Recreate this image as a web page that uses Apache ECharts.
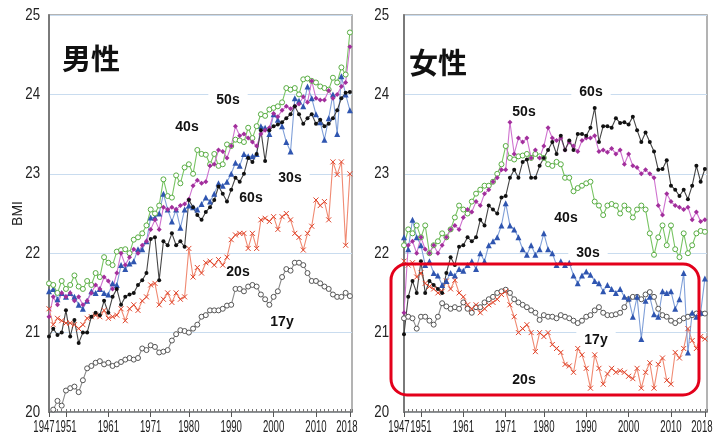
<!DOCTYPE html>
<html>
<head>
<meta charset="utf-8">
<script src="https://cdn.jsdelivr.net/npm/echarts@6/dist/echarts.min.js"></script>
<style>
  html, body { margin: 0; padding: 0; background: #fff; }
  #chart { width: 716px; height: 435px; }
</style>
</head>
<body>
<div id="chart"></div>
<script>
// Survey years 1947–2018
const FIRST_YEAR = 1947;
const YEARS = Array.from({ length: 72 }, (_, i) => FIRST_YEAR + i);
const X_TICKS = [1947, 1951, 1961, 1971, 1980, 1990, 2000, 2010, 2018];
const Y_TICKS = [20, 21, 22, 23, 24, 25];

// ---- 男性 (mean BMI) ----
const male17 = [null, 20.03, 20.14,
  20.08, 20.27, 20.30, 20.32, 20.25, 20.40, 20.55, 20.58, 20.62, 20.64,
  20.60, 20.62, 20.58, 20.60, 20.63, 20.66, 20.68, 20.66, 20.68, 20.80,
  20.78, 20.84, 20.82, 20.75, 20.76, 20.78, 20.90, 20.98, 21.03, 21.02,
  21.00, 21.05, 21.10, 21.20, 21.22, 21.28, 21.28, 21.28, 21.30, 21.34,
  21.35, 21.55, 21.55, 21.52, 21.58, 21.60, 21.58, 21.48, 21.42, 21.35,
  21.45, 21.52, 21.70, 21.80, 21.78, 21.88, 21.88, 21.85, 21.75, 21.65,
  21.65, 21.62, 21.58, 21.55, 21.48, 21.45, 21.45, 21.50, 21.46];
const male20 = [21.30, 21.10, 21.18,
  21.15, 21.12, 21.12, 21.10, 21.05, 21.10, 21.18, 21.20, 21.22, 21.20,
  21.28, 21.18, 21.20, 21.22, 21.30, 21.15, 21.30, 21.35, 21.28, 21.40,
  21.45, 21.60, 21.62, 21.35, 21.42, 21.50, 21.38, 21.50, 21.42, 21.45,
  22.06, 21.70, 21.82, 21.75, 21.88, 21.90, 21.85, 21.92, 21.85, 21.95,
  22.17, 22.23, 22.25, 22.25, 22.06, 22.25, 22.06, 22.42, 22.44, 22.40,
  22.46, 22.30, 22.46, 22.50, 22.42, 22.25, 22.20, 22.04, 22.25, 22.34,
  22.67, 22.60, 22.65, 22.42, 23.15, 22.99, 23.15, 22.10, 23.00];
const male30 = [21.52, 21.55, 21.42,
  21.50, 21.45, 21.50, 21.45, 21.35, 21.30, 21.40, 21.52, 21.50, 21.55,
  21.50, 21.48, 21.62, 21.60, 21.85, 21.80, 21.87, 21.90, 22.05, 22.05,
  22.15, 22.45, 22.45, 22.50, 22.75, 22.55, 22.40, 22.55, 22.32, 22.55,
  22.60, 22.58, 22.55, 22.62, 22.70, 22.65, 22.75, 22.88, 22.85, 22.90,
  23.00, 23.14, 23.10, 23.25, 23.22, 23.22, 23.25, 23.60, 23.58, 23.50,
  23.75, 23.68, 23.60, 23.40, 23.28, 23.95, 23.92, 23.85, 24.10, 23.95,
  23.75, 23.65, 23.43, 23.70, 24.00, 23.50, 24.23, 24.00, 23.80];
const male40 = [21.62, 21.60, 21.50,
  21.65, 21.55, 21.60, 21.72, 21.58, 21.55, 21.65, 21.60, 21.75, 21.70,
  21.95, 21.88, 21.85, 22.02, 22.04, 22.05, 22.00, 22.17, 22.20, 22.25,
  22.35, 22.55, 22.50, 22.60, 22.93, 22.72, 22.70, 22.98, 22.88, 23.08,
  23.12, 23.00, 23.30, 23.25, 23.24, 23.12, 23.25, 23.10, 23.12, 23.37,
  23.35, 23.43, 23.42, 23.40, 23.58, 23.45, 23.60, 23.75, 23.73, 23.81,
  23.83, 23.85, 23.90, 24.08, 24.06, 24.08, 24.00, 24.19, 24.20, 24.17,
  24.15, 24.10, 24.08, 24.06, 24.21, 24.15, 24.34, 24.25, 24.78];
const male50 = [21.20, 21.45, 21.35,
  21.50, 21.45, 21.50, 21.40, 21.45, 21.35, 21.40, 21.50, 21.60, 21.55,
  21.70, 21.65, 21.55, 21.75, 22.00, 21.85, 21.95, 22.05, 22.00, 22.10,
  22.15, 22.30, 22.42, 22.30, 22.58, 22.55, 22.58, 22.55, 22.60, 22.62,
  22.68, 22.85, 22.92, 22.88, 22.90, 23.10, 23.12, 23.30, 23.28, 23.20,
  23.35, 23.60, 23.48, 23.50, 23.45, 23.40, 23.35, 23.50, 23.55, 23.58,
  23.76, 23.72, 23.80, 23.85, 23.82, 23.85, 23.88, 23.97, 23.90, 24.17,
  23.95, 23.93, 23.93, 24.05, 23.95, 24.00, 24.10, 24.15, 24.60];
const male60 = [20.95, 21.05, 20.97,
  21.00, 21.28, 20.95, 21.16, 20.87, 21.00, 21.00, 21.20, 21.25, 21.22,
  21.40, 21.25, 21.45, 21.55, 21.35, 21.45, 21.48, 21.50, 21.60, 21.66,
  21.75, 22.18, 22.20, 21.66, 22.15, 22.10, 22.25, 22.10, 22.15, 22.08,
  22.67, 22.58, 22.48, 22.42, 22.52, 22.58, 22.67, 22.84, 22.75, 22.65,
  22.80, 22.95, 22.90, 23.00, 23.20, 23.15, 23.25, 23.55, 23.16, 23.55,
  23.60, 23.62, 23.65, 23.70, 23.75, 23.85, 23.75, 23.63, 23.70, 23.75,
  23.63, 23.68, 23.60, 23.63, 23.70, 23.80, 23.95, 24.02, 24.03];

// ---- 女性 (mean BMI) ----
const female17 = [21.18, 21.20, 21.18,
  21.05, 21.20, 21.20, 21.15, 21.10, 21.20, 21.37, 21.33, 21.30, 21.32,
  21.30, 21.38, 21.30, 21.25, 21.32, 21.32, 21.38, 21.42, 21.45, 21.50,
  21.52, 21.54, 21.50, 21.42, 21.38, 21.35, 21.32, 21.28, 21.25, 21.16,
  21.22, 21.20, 21.20, 21.18, 21.22, 21.20, 21.18, 21.15, 21.12, 21.15,
  21.20, 21.22, 21.28, 21.32, 21.25, 21.22, 21.22, 21.23, 21.25, 21.32,
  21.42, 21.45, 21.45, 21.42, 21.48, 21.51, 21.45, 21.30, 21.22, 21.20,
  21.15, 21.12, 21.15, 21.18, 21.20, 21.22, 21.24, 21.24, 21.24];
const female20 = [21.90, 21.85, 21.88,
  21.70, 21.75, 21.62, 21.58, 21.55, 21.50, 21.52, 21.65, 21.55, 21.66,
  21.50, 21.45, 21.35, 21.30, 21.35, 21.25, 21.30, 21.35, 21.38, 21.42,
  21.48, 21.52, 21.35, 21.20, 21.00, 21.05, 21.10, 21.00, 20.76, 21.00,
  20.95, 21.00, 20.85, 20.80, 20.75, 20.60, 20.58, 20.50, 20.80, 20.72,
  20.55, 20.30, 20.72, 20.55, 20.35, 20.48, 20.55, 20.50, 20.52, 20.50,
  20.45, 20.42, 20.55, 20.30, 20.50, 20.62, 20.30, 20.60, 20.68, 20.40,
  20.35, 20.75, 20.68, 20.80, 21.05, 20.90, 20.80, 20.95, 20.92];
const female30 = [22.20, 22.05, 22.42,
  22.20, 22.10, 21.85, 21.90, 21.75, 21.72, 21.60, 21.65, 21.75, 21.72,
  21.80, 21.78, 21.85, 21.90, 21.80, 22.00, 21.90, 22.10, 22.15, 22.20,
  22.35, 22.63, 22.35, 22.30, 22.20, 22.05, 21.98, 22.10, 21.98, 22.05,
  22.25, 22.05, 22.00, 21.85, 21.90, 21.85, 21.88, 21.72, 21.62, 21.72,
  21.77, 21.73, 21.65, 21.62, 21.52, 21.60, 21.55, 21.50, 21.55, 21.45,
  21.43, 21.20, 21.45, 20.92, 21.40, 21.45, 21.23, 21.20, 21.52, 21.50,
  21.52, 21.30, 21.42, 21.75, 20.75, 21.25, 21.20, 21.25, 21.68];
const female40 = [22.10, 22.30, 22.25,
  22.35, 22.20, 22.35, 22.00, 22.10, 22.15, 22.25, 22.20, 22.30, 22.45,
  22.60, 22.55, 22.50, 22.65, 22.75, 22.80, 22.85, 22.85, 22.90, 23.00,
  23.12, 23.35, 23.20, 23.18, 23.22, 23.23, 23.25, 23.20, 23.25, 23.22,
  23.20, 23.12, 23.10, 23.15, 23.12, 22.95, 22.95, 22.78, 22.82, 22.85,
  22.88, 22.90, 22.65, 22.60, 22.48, 22.60, 22.62, 22.60, 22.50, 22.60,
  22.55, 22.45, 22.55, 22.60, 22.55, 22.25, 21.98, 22.20, 22.35, 22.10,
  22.35, 22.05, 21.95, 22.25, 22.00, 22.10, 22.25, 22.28, 22.27];
const female50 = [21.25, 22.10, 22.15,
  22.00, 22.20, 22.05, 22.00, 22.10, 22.00, 22.10, 22.20, 22.30, 22.35,
  22.30, 22.45, 22.55, 22.52, 22.65, 22.60, 22.75, 22.80, 22.90, 22.95,
  23.05, 23.05, 23.65, 23.25, 23.45, 23.40, 23.45, 23.20, 23.30, 23.20,
  23.35, 23.58, 23.45, 23.42, 23.45, 23.30, 23.40, 23.35, 23.28, 23.42,
  23.45, 23.45, 23.48, 23.28, 23.30, 23.27, 23.32, 23.25, 23.30, 23.12,
  23.25, 23.10, 23.08, 23.00, 23.05, 23.00, 22.95, 22.60, 22.48, 22.75,
  22.65, 22.60, 22.58, 22.55, 22.58, 22.42, 22.52, 22.40, 22.42];
const female60 = [20.98, 21.45, 21.65,
  21.50, 21.90, 21.50, 21.65, 21.60, 21.55, 21.50, 21.75, 21.95, 21.85,
  22.08, 22.10, 22.20, 22.15, 22.20, 22.42, 22.35, 22.60, 22.55, 22.50,
  22.70, 22.72, 22.95, 23.05, 22.95, 23.15, 23.18, 22.95, 22.95, 23.10,
  23.20, 23.30, 23.40, 23.25, 23.48, 23.30, 23.42, 23.30, 23.50, 23.50,
  23.48, 23.58, 23.83, 23.40, 23.60, 23.60, 23.58, 23.70, 23.64, 23.65,
  23.62, 23.72, 23.55, 23.40, 23.52, 23.40, 23.28, 23.05, 23.06, 23.17,
  22.85, 22.80, 22.72, 22.80, 22.68, 22.85, 23.10, 22.90, 23.06];

// Line / marker styles per age group
const STYLES = {
  '17y': { line: '#8a8a8a', symbol: 'circle', size: 5, fill: '#ffffff', border: '#555555' },
  '20s': { line: '#f08a72', symbol: 'path://M0,0L10,10M10,0L0,10', size: 5, fill: 'none', border: '#e0452c' },
  '30s': { line: '#7f9fd8', symbol: 'triangle', size: 6, fill: '#2f55b0', border: null },
  '40s': { line: '#78c463', symbol: 'circle', size: 5, fill: '#ffffff', border: '#58ad42' },
  '50s': { line: '#cf72cf', symbol: 'diamond', size: 5, fill: '#a22f9c', border: null },
  '60s': { line: '#454545', symbol: 'circle', size: 4, fill: '#111111', border: null }
};

function pairs(values) {
  return YEARS.map((y, i) => [y, values[i]]).filter(p => p[1] !== null);
}

function makeSeries(name, values, g) {
  const s = STYLES[name];
  return {
    name: name + (g === 0 ? ' 男性' : ' 女性'),
    type: 'line',
    xAxisIndex: g * 2,
    yAxisIndex: g,
    data: pairs(values),
    symbol: s.symbol,
    symbolSize: s.size,
    showAllSymbol: true,
    lineStyle: { color: s.line, width: 1.1 },
    itemStyle: {
      color: s.fill,
      borderColor: s.border || s.fill,
      borderWidth: s.border ? 1 : 0
    },
    emphasis: { disabled: true },
    z: 3
  };
}

const GRID_TOP = 15;
const GRID_H = 397;
const GRID_W = 303;

function xAxes(g) {
  return [
    {
      type: 'value', gridIndex: g, min: 1947, max: 2018.5,
      axisLine: { show: true, lineStyle: { color: '#7a7a7a', width: 1.5 } },
      axisTick: { show: true, customValues: X_TICKS, length: 5, lineStyle: { color: '#555' } },
      axisLabel: { show: false },
      splitLine: { show: false }
    },
    {
      type: 'value', gridIndex: g, min: 1947, max: 2018.5, interval: 1,
      position: 'bottom',
      axisLine: { show: false },
      axisLabel: { show: false },
      axisTick: { show: true, inside: true, length: 3, lineStyle: { color: '#777' } },
      splitLine: { show: false }
    }
  ];
}

function yAxis(g) {
  return {
    type: 'value', gridIndex: g, min: 20, max: 25, interval: 1,
    name: g === 0 ? 'BMI' : '',
    nameLocation: 'middle',
    nameRotate: 90,
    nameGap: 24,
    nameTextStyle: { fontSize: 14, color: '#222', fontFamily: '"Liberation Sans", Arial, sans-serif' },
    axisLine: { show: true, lineStyle: { color: '#7a7a7a', width: 2 } },
    axisTick: { show: false },
    axisLabel: { show: false },
    splitLine: { show: true, lineStyle: { color: '#c9dcef', width: 1 } }
  };
}

function nameLabel(text, x, y) {
  return {
    type: 'text', x: x, y: y, z: 1,
    style: {
      text: text,
      fill: '#111',
      font: 'bold 14px "Liberation Sans", Arial, sans-serif',
      align: 'center',
      verticalAlign: 'middle',
      backgroundColor: '#fff',
      padding: [1, 8]
    }
  };
}

const chart = echarts.init(document.getElementById('chart'), null, { renderer: 'canvas' });

chart.setOption({
  animation: false,
  backgroundColor: '#fff',
  grid: [
    { left: 49, top: GRID_TOP, width: GRID_W, height: GRID_H, show: true, borderColor: '#9a9a9a', borderWidth: 1.5, backgroundColor: 'transparent' },
    { left: 404, top: GRID_TOP, width: GRID_W, height: GRID_H, show: true, borderColor: '#9a9a9a', borderWidth: 1.5, backgroundColor: 'transparent' }
  ],
  xAxis: [...xAxes(0), ...xAxes(1)],
  yAxis: [yAxis(0), yAxis(1)],
  series: [
    makeSeries('17y', male17, 0),
    makeSeries('20s', male20, 0),
    makeSeries('30s', male30, 0),
    makeSeries('40s', male40, 0),
    makeSeries('50s', male50, 0),
    makeSeries('60s', male60, 0),
    makeSeries('17y', female17, 1),
    makeSeries('20s', female20, 1),
    makeSeries('30s', female30, 1),
    makeSeries('40s', female40, 1),
    makeSeries('50s', female50, 1),
    makeSeries('60s', female60, 1)
  ]
});

// Tick labels in a condensed face, placed through the axis scales
const tickLabels = [];
[0, 1].forEach(g => {
  const axisY = chart.convertToPixel({ yAxisIndex: g }, 20);
  const axisX = chart.convertToPixel({ xAxisIndex: g * 2 }, 1947);
  X_TICKS.forEach(v => {
    let px = chart.convertToPixel({ xAxisIndex: g * 2 }, v);
    if (v === 1947) px -= 5;
    if (v === 2018) px -= 3;
    tickLabels.push({
      type: 'text', x: px, y: axisY + 16, scaleX: 0.6, z: 1,
      style: { text: String(v), fill: '#222', font: '16px "Liberation Sans", Arial, sans-serif', align: 'center', verticalAlign: 'middle' }
    });
  });
  Y_TICKS.forEach(v => {
    const py = chart.convertToPixel({ yAxisIndex: g }, v);
    tickLabels.push({
      type: 'text', x: axisX - (g === 0 ? 9 : 15), y: py, scaleX: 0.78, z: 1,
      style: { text: String(v), fill: '#222', font: '17px "Liberation Sans", Arial, sans-serif', align: 'right', verticalAlign: 'middle' }
    });
  });
});

chart.setOption({
  graphic: [
    ...tickLabels,
    {
      type: 'text', x: 91, y: 59, z: 1,
      style: { text: '男性', fill: '#111', font: 'bold 29px "Noto Sans CJK JP", sans-serif', align: 'center', verticalAlign: 'middle' }
    },
    {
      type: 'text', x: 438, y: 63, z: 1,
      style: { text: '女性', fill: '#111', font: 'bold 29px "Noto Sans CJK JP", sans-serif', align: 'center', verticalAlign: 'middle' }
    },
    nameLabel('50s', 228, 100),
    nameLabel('40s', 187, 127),
    nameLabel('30s', 290, 178),
    nameLabel('60s', 251, 198),
    nameLabel('20s', 238, 272),
    nameLabel('17y', 282, 322),
    nameLabel('60s', 591, 92),
    nameLabel('50s', 524, 112),
    nameLabel('40s', 566, 218),
    nameLabel('30s', 588, 253),
    nameLabel('17y', 596, 340),
    nameLabel('20s', 524, 380),
    {
      type: 'rect', z: 10,
      shape: { x: 391, y: 264, width: 308, height: 131, r: 16 },
      style: { fill: 'none', stroke: '#e3001b', lineWidth: 3 }
    }
  ]
});
</script>
</body>
</html>
